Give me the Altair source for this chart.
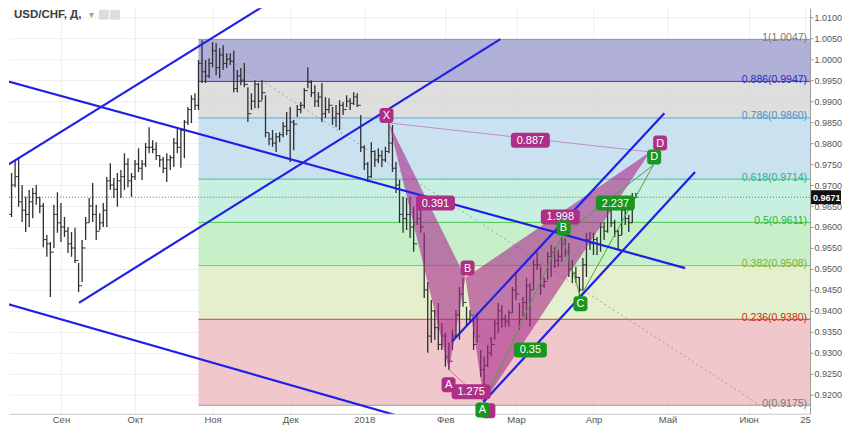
import altair as alt
import pandas as pd

# ---------------- data ----------------
# bar index = trading day counted from 2017-09-01 (index 0)
first_bar = -17
highs = [
    0.9741, 0.9681, 0.9657, 0.9729, 0.9760, 0.9767, 0.9700, 0.9672, 0.9688, 0.9693,
    0.9700, 0.9672, 0.9657, 0.9581, 0.9564, 0.9653, 0.9683, 0.9657, 0.9624, 0.9600,
    0.9588, 0.9598, 0.9514, 0.9569, 0.9624, 0.9669, 0.9705, 0.9653, 0.9633, 0.9657,
    0.9719, 0.9752, 0.9717, 0.9729, 0.9736, 0.9776, 0.9764, 0.9729, 0.9760, 0.9788,
    0.9760, 0.9800, 0.9838, 0.9807, 0.9802, 0.9771, 0.9767, 0.9776, 0.9771, 0.9812,
    0.9836, 0.9836, 0.9855, 0.9886, 0.9914, 0.9919, 0.9998, 1.0045, 0.9998, 1.0002,
    1.0041, 1.0038, 1.0026, 1.0033, 1.0014, 1.0014, 1.0021, 0.9974, 0.9979, 0.9991,
    0.9933, 0.9919, 0.9950, 0.9943, 0.9950, 0.9914, 0.9824, 0.9831, 0.9824, 0.9826,
    0.9850, 0.9874, 0.9886, 0.9855, 0.9891, 0.9898, 0.9931, 0.9981, 0.9950, 0.9938,
    0.9921, 0.9943, 0.9910, 0.9907, 0.9886, 0.9891, 0.9902, 0.9898, 0.9914, 0.9907,
    0.9921, 0.9919, 0.9867, 0.9795, 0.9755, 0.9802, 0.9783, 0.9788, 0.9783, 0.9791,
    0.9848, 0.9843, 0.9755, 0.9712, 0.9672, 0.9669, 0.9672, 0.9648, 0.9645, 0.9641,
    0.9586, 0.9469, 0.9426, 0.9402, 0.9419, 0.9371, 0.9348, 0.9324, 0.9355, 0.9402,
    0.9457, 0.9479, 0.9410, 0.9402, 0.9379, 0.9395, 0.9307, 0.9291, 0.9319, 0.9338,
    0.9379, 0.9419, 0.9414, 0.9391, 0.9402, 0.9457, 0.9493, 0.9419, 0.9433, 0.9479,
    0.9467, 0.9522, 0.9541, 0.9505, 0.9479, 0.9541, 0.9557, 0.9552, 0.9545, 0.9579,
    0.9574, 0.9562, 0.9522, 0.9505, 0.9481, 0.9526, 0.9586, 0.9588, 0.9586, 0.9576,
    0.9610, 0.9612, 0.9653, 0.9660, 0.9617, 0.9593, 0.9653, 0.9645, 0.9629, 0.9681, 0.9681,
]
lows = [
    0.9617, 0.9612, 0.9586, 0.9624, 0.9695, 0.9648, 0.9612, 0.9588, 0.9600, 0.9621,
    0.9653, 0.9633, 0.9552, 0.9529, 0.9433, 0.9550, 0.9586, 0.9564, 0.9576, 0.9538,
    0.9529, 0.9514, 0.9445, 0.9469, 0.9569, 0.9610, 0.9612, 0.9569, 0.9593, 0.9600,
    0.9600, 0.9688, 0.9669, 0.9648, 0.9669, 0.9688, 0.9695, 0.9672, 0.9712, 0.9731,
    0.9712, 0.9743, 0.9776, 0.9776, 0.9760, 0.9743, 0.9729, 0.9707, 0.9736, 0.9743,
    0.9776, 0.9741, 0.9764, 0.9843, 0.9848, 0.9879, 0.9879, 0.9943, 0.9943, 0.9955,
    0.9981, 0.9962, 0.9955, 0.9974, 0.9979, 0.9986, 0.9921, 0.9921, 0.9938, 0.9933,
    0.9850, 0.9879, 0.9883, 0.9883, 0.9902, 0.9814, 0.9795, 0.9791, 0.9779, 0.9802,
    0.9814, 0.9819, 0.9755, 0.9783, 0.9862, 0.9871, 0.9883, 0.9931, 0.9910, 0.9886,
    0.9886, 0.9850, 0.9860, 0.9871, 0.9843, 0.9838, 0.9831, 0.9867, 0.9886, 0.9879,
    0.9891, 0.9886, 0.9779, 0.9736, 0.9707, 0.9717, 0.9743, 0.9752, 0.9743, 0.9755,
    0.9776, 0.9731, 0.9681, 0.9610, 0.9586, 0.9593, 0.9574, 0.9541, 0.9605, 0.9586,
    0.9431, 0.9300, 0.9324, 0.9331, 0.9307, 0.9307, 0.9267, 0.9260, 0.9307, 0.9338,
    0.9331, 0.9410, 0.9362, 0.9371, 0.9307, 0.9324, 0.9243, 0.9183, 0.9267, 0.9291,
    0.9331, 0.9348, 0.9360, 0.9362, 0.9362, 0.9395, 0.9426, 0.9355, 0.9386, 0.9379,
    0.9362, 0.9450, 0.9498, 0.9438, 0.9455, 0.9474, 0.9481, 0.9502, 0.9505, 0.9517,
    0.9529, 0.9481, 0.9467, 0.9467, 0.9433, 0.9450, 0.9481, 0.9545, 0.9533, 0.9533,
    0.9541, 0.9569, 0.9586, 0.9600, 0.9576, 0.9545, 0.9581, 0.9605, 0.9588, 0.9610, 0.9669,
]
closes = [
    0.9650, 0.9640, 0.9630, 0.9700, 0.9720, 0.9660, 0.9640, 0.9630, 0.9660, 0.9680,
    0.9670, 0.9650, 0.9570, 0.9560, 0.9540, 0.9630, 0.9610, 0.9600, 0.9590, 0.9560,
    0.9550, 0.9520, 0.9460, 0.9550, 0.9610, 0.9650, 0.9630, 0.9590, 0.9610, 0.9640,
    0.9710, 0.9700, 0.9690, 0.9710, 0.9720, 0.9750, 0.9710, 0.9720, 0.9750, 0.9740,
    0.9750, 0.9790, 0.9790, 0.9785, 0.9770, 0.9760, 0.9740, 0.9760, 0.9765, 0.9800,
    0.9790, 0.9830, 0.9850, 0.9880, 0.9905, 0.9890, 0.9990, 0.9970, 0.9960, 0.9990,
    1.0020, 0.9980, 1.0010, 0.9990, 1.0000, 0.9995, 0.9930, 0.9960, 0.9950, 0.9940,
    0.9870, 0.9900, 0.9940, 0.9900, 0.9920, 0.9825, 0.9810, 0.9800, 0.9815, 0.9820,
    0.9840, 0.9830, 0.9850, 0.9845, 0.9880, 0.9890, 0.9925, 0.9945, 0.9920, 0.9900,
    0.9910, 0.9870, 0.9880, 0.9890, 0.9860, 0.9870, 0.9890, 0.9880, 0.9900, 0.9895,
    0.9910, 0.9890, 0.9790, 0.9750, 0.9720, 0.9780, 0.9760, 0.9770, 0.9760, 0.9780,
    0.9800, 0.9740, 0.9700, 0.9630, 0.9620, 0.9630, 0.9600, 0.9560, 0.9620, 0.9600,
    0.9450, 0.9340, 0.9400, 0.9360, 0.9320, 0.9340, 0.9290, 0.9280, 0.9340, 0.9390,
    0.9440, 0.9420, 0.9380, 0.9390, 0.9320, 0.9340, 0.9260, 0.9270, 0.9300, 0.9320,
    0.9370, 0.9400, 0.9380, 0.9375, 0.9395, 0.9450, 0.9440, 0.9380, 0.9420, 0.9460,
    0.9450, 0.9510, 0.9510, 0.9460, 0.9470, 0.9530, 0.9540, 0.9520, 0.9530, 0.9560,
    0.9540, 0.9500, 0.9490, 0.9480, 0.9450, 0.9510, 0.9570, 0.9560, 0.9570, 0.9560,
    0.9600, 0.9590, 0.9640, 0.9610, 0.9590, 0.9580, 0.9640, 0.9620, 0.9610, 0.9670, 0.9671,
]
first_open = 0.9700
last_price = 0.9671

month_ticks = [0, 21, 43, 65, 86, 109, 129, 151, 172, 195, 211]
month_labels = ["Сен", "Окт", "Ноя", "Дек", "2018", "Фев", "Мар", "Апр", "Май", "Июн", "25"]
price_ticks = [0.915, 0.920, 0.925, 0.930, 0.935, 0.940, 0.945, 0.950, 0.955, 0.960,
               0.965, 0.970, 0.975, 0.980, 0.985, 0.990, 0.995, 1.000, 1.005, 1.010]

# Fibonacci retracement
fib_start = 39
fib_levels = ["1", "0.886", "0.786", "0.618", "0.5", "0.382", "0.236", "0"]
fib_prices = [1.0047, 0.9947, 0.9860, 0.9714, 0.9611, 0.9508, 0.9380, 0.9175]
fib_line_colors = ["#9a9a9a", "#3a3ad2", "#5fa8da", "#3cc59c", "#4cc44c", "#93c63e", "#d63c3c", "#9a9a9a"]
fib_text_colors = ["#7a7a7a", "#2a2ac0", "#3f94cc", "#22b484", "#30b430", "#7db22a", "#c82a2a", "#7a7a7a"]
fib_band_colors = ["#9c9cce", "#d6d6d6", "#bddbec", "#baecd9", "#baecba", "#ddecc0", "#ecbabe"]
fib_trend = [(39, 1.0047, 198.2, 0.9175)]

# user-drawn blue trend lines (bar index, price)
blue_lines = [
    (-17.0, 0.9738, 60.0, 1.0140),
    (5.1, 0.9419, 124.6, 1.0048),
    (-17.0, 0.9952, 177.0, 0.9502),
    (-17.0, 0.9421, 100.5, 0.9138),
    (110.9, 0.9327, 171.1, 0.9871),
    (119.8, 0.9183, 179.8, 0.9731),
]

# pink harmonic pattern X-A-B-C-D
pink_names = ["X", "A", "B", "C", "D"]
pink_i = [93, 110, 114.7, 120, 167]
pink_p = [0.9848, 0.9260, 0.9479, 0.9183, 0.9779]

# green ABCD pattern
green_names = ["A", "B", "C", "D"]
green_i = [120, 142.1, 147.3, 168]
green_p = [0.9183, 0.9579, 0.9434, 0.9748]

pink_label_text = ["X", "0.887", "0.391", "B", "A", "1.275", "1.998", "D"]
pink_label_i = [92.3, 133.1, 106.2, 115.3, 109.9, 116.3, 141.6, 169.9]
pink_label_p = [0.9866, 0.9807, 0.9657, 0.9502, 0.9224, 0.9207, 0.9624, 0.9800]
# pink "C" marker box, hidden behind the green "A" marker
pink_hidden_i = [121.2]
pink_hidden_p = [0.9162]

green_label_text = ["A", "B", "C", "D", "0.35", "2.237"]
green_label_i = [119.5, 142.5, 147.3, 168.2, 133.1, 157.2]
green_label_p = [0.9164, 0.9598, 0.9417, 0.9767, 0.9307, 0.9657]

# ---------------- chart ----------------
# plot area: page x 8..810, page y 8..414 (fits the 850x435 page with its 8px margin)
W, H = 802, 406
xs = alt.Scale(domain=[-14.73, 212.4], nice=False, zero=False)
ys = alt.Scale(domain=[0.915479, 1.012145], nice=False, zero=False)
FONT = "Liberation Sans"

lbl_expr = " : ".join(f"datum.value == {t} ? '{l}'" for t, l in zip(month_ticks, month_labels)) + " : ''"
x_axis = alt.Axis(values=month_ticks, labelExpr=lbl_expr, orient="bottom", grid=True,
                  gridColor="#eeeeee", domainColor="#c8c8c8", tickSize=0, labelPadding=1,
                  labelFontSize=9.5, labelColor="#555555", labelFont=FONT, title=None,
                  labelFlush=False, labelOverlap=False)
y_axis = alt.Axis(values=price_ticks, format=".4f", orient="right", grid=True,
                  gridColor="#eeeeee", domainColor="#9a9a9a", tickColor="#9a9a9a", tickSize=3,
                  labelPadding=1, labelFontSize=9, labelColor="#555555", labelFont=FONT,
                  title=None, labelFlush=False, labelOverlap=False)


def X(f):
    return alt.X(f, scale=xs, axis=x_axis, title=None)


def Y(f):
    return alt.Y(f, scale=ys, axis=y_axis, title=None)


idx = list(range(first_bar, first_bar + len(highs)))
opens = [first_open] + closes[:-1]
bars = pd.DataFrame({"i": idx, "high": highs, "low": lows, "close": closes, "open": opens})

# Fib bands and lines
bands = pd.DataFrame({
    "top": fib_prices[:-1], "bot": fib_prices[1:], "col": fib_band_colors,
    "i": [fib_start] * len(fib_band_colors),
})
band_layer = alt.Chart(bands).mark_rect(opacity=0.8, clip=True).encode(
    x=X("i:Q"), x2=alt.value(W), y=Y("top:Q"), y2="bot:Q", color=alt.Color("col:N", scale=None)
)
fibl = pd.DataFrame({"p": fib_prices, "col": fib_line_colors, "tcol": fib_text_colors,
                     "lab": [f"{l}({p:.4f})" for l, p in zip(fib_levels, fib_prices)],
                     "i": [fib_start] * len(fib_prices)})
fib_line_layer = alt.Chart(fibl).mark_rule(strokeWidth=1, clip=True).encode(
    x=X("i:Q"), x2=alt.value(W), y=Y("p:Q"), color=alt.Color("col:N", scale=None)
)
fib_text_layer = alt.Chart(fibl).mark_text(align="right", baseline="middle", dy=-1.5,
                                           fontSize=10.5, font=FONT).encode(
    x=alt.value(W - 3), y=Y("p:Q"), text="lab:N", color=alt.Color("tcol:N", scale=None)
)
ft = pd.DataFrame(fib_trend, columns=["i1", "p1", "i2", "p2"])
fib_trend_layer = alt.Chart(ft).mark_rule(color="#a0a0a0", strokeWidth=1, strokeDash=[2, 3], clip=True).encode(
    x=X("i1:Q"), x2="i2:Q", y=Y("p1:Q"), y2="p2:Q"
)

lp = pd.DataFrame({"p": [last_price]})
last_line = alt.Chart(lp).mark_rule(color="#666666", strokeWidth=1, strokeDash=[1, 2]).encode(
    x=alt.value(0), x2=alt.value(W), y=Y("p:Q")
)

# OHLC bars
bar_color = "#2e2e2e"
hl_layer = alt.Chart(bars).mark_rule(color=bar_color, strokeWidth=1.3, clip=True).encode(
    x=X("i:Q"), y=Y("low:Q"), y2="high:Q",
)
open_layer = alt.Chart(bars).transform_calculate(io="datum.i - 0.5").mark_rule(
    color=bar_color, strokeWidth=1, clip=True).encode(x=X("io:Q"), x2="i:Q", y=Y("open:Q"))
close_layer = alt.Chart(bars).transform_calculate(ic="datum.i + 0.5").mark_rule(
    color=bar_color, strokeWidth=1, clip=True).encode(x=X("i:Q"), x2="ic:Q", y=Y("close:Q"))


# pink pattern triangles (vertices -> two boundary polylines)
def tri_df(pts):
    pts = sorted(pts)
    (i0, p0), (i1, p1), (i2, p2) = pts
    pe = p0 + (p2 - p0) * (i1 - i0) / (i2 - i0)
    return pd.DataFrame({"ti": [i0, i1, i2], "pa": [p0, p1, p2], "pb": [p0, pe, p2]})


P = dict(zip(pink_names, zip(pink_i, pink_p)))
G = dict(zip(green_names, zip(green_i, green_p)))
tri_layers = []
for pts in ([P["X"], P["A"], P["B"]], [P["B"], P["C"], P["D"]]):
    tri_layers.append(alt.Chart(tri_df(pts)).mark_area(color="#aa288c", opacity=0.6).encode(
        x=X("ti:Q"), y=Y("pa:Q"), y2="pb:Q"))


def seg_df(pairs, pts):
    return pd.DataFrame([dict(i1=pts[a][0], p1=pts[a][1], i2=pts[b][0], p2=pts[b][1]) for a, b in pairs])


pink_xd = alt.Chart(seg_df([("X", "D")], P)).mark_rule(color="#c88ac6", strokeWidth=1).encode(
    x=X("i1:Q"), x2="i2:Q", y=Y("p1:Q"), y2="p2:Q")
pink_ac = alt.Chart(seg_df([("A", "C")], P)).mark_rule(color="#d86aa2", strokeWidth=1).encode(
    x=X("i1:Q"), x2="i2:Q", y=Y("p1:Q"), y2="p2:Q")
green_seg = alt.Chart(seg_df([("A", "B"), ("B", "C"), ("C", "D"), ("A", "C"), ("B", "D")], G)).mark_rule(
    color="#43a843", strokeWidth=1).encode(x=X("i1:Q"), x2="i2:Q", y=Y("p1:Q"), y2="p2:Q")

blue = pd.DataFrame(blue_lines, columns=["i1", "p1", "i2", "p2"])
blue_layer = alt.Chart(blue).mark_rule(color="#1f1fe6", strokeWidth=2.2, clip=True).encode(
    x=X("i1:Q"), x2="i2:Q", y=Y("p1:Q"), y2="p2:Q")


def label_layers(texts, ii, pp, fill):
    df = pd.DataFrame({"t": texts, "i": ii, "p": pp})
    out = []
    for n, half in [(1, 7), (4, 16.5), (5, 19.5)]:
        out.append(alt.Chart(df).transform_filter(f"length(datum.t) == {n}").mark_rect(
            color=fill, cornerRadius=3, xOffset=-half, x2Offset=half, yOffset=-7.5, y2Offset=7.5
        ).encode(x=X("i:Q"), x2="i:Q", y=Y("p:Q"), y2="p:Q"))
    out.append(alt.Chart(df).mark_text(color="white", fontSize=11, font=FONT, baseline="middle",
                                       align="center", dy=0.5).encode(x=X("i:Q"), y=Y("p:Q"), text="t:N"))
    return out


PINK, GREEN = "#ad2f86", "#18961e"
hidden_box = alt.Chart(pd.DataFrame({"i": pink_hidden_i, "p": pink_hidden_p})).mark_rect(
    color=PINK, cornerRadius=3, xOffset=-7, x2Offset=7, yOffset=-7.5, y2Offset=7.5
).encode(x=X("i:Q"), x2="i:Q", y=Y("p:Q"), y2="p:Q")
pink_labels = label_layers(pink_label_text, pink_label_i, pink_label_p, PINK)
green_labels = label_layers(green_label_text, green_label_i, green_label_p, GREEN)

badge_df = pd.DataFrame({"p": [last_price], "t": [f"{last_price:.4f}"]})
badge_rect = alt.Chart(badge_df).mark_rect(color="#111111", yOffset=-7, y2Offset=7).encode(
    x=alt.value(W + 1), x2=alt.value(W + 31), y=Y("p:Q"), y2="p:Q")
badge_text = alt.Chart(badge_df).mark_text(color="white", fontSize=9, font=FONT, fontWeight="bold",
                                           align="left", baseline="middle", dy=0.5).encode(
    x=alt.value(W + 3), y=Y("p:Q"), text="t:N")

title_df = pd.DataFrame({"t": ["USD/CHF, Д,"]})
title_layer = alt.Chart(title_df).mark_text(color="#3c3c3c", fontSize=11.5, font=FONT, fontWeight="bold",
                                            align="left", baseline="middle").encode(
    x=alt.value(5), y=alt.value(6.5), text="t:N")
arrow_layer = alt.Chart(pd.DataFrame({"t": ["▾"]})).mark_text(color="#a0a0a0", fontSize=10, font="DejaVu Sans",
                                                               align="left", baseline="middle").encode(
    x=alt.value(80), y=alt.value(6.5), text="t:N")
icons_layer = alt.Chart(pd.DataFrame({"x": [90, 101]})).mark_rect(color="#dddddd", cornerRadius=1).encode(
    x=alt.X("x:Q", scale=None, axis=None), x2=alt.X2("x2:Q"), y=alt.value(1.5), y2=alt.value(11.5)
).transform_calculate(x2="datum.x + 10")

chart = alt.layer(
    band_layer, fib_line_layer, fib_trend_layer, last_line,
    hl_layer, open_layer, close_layer,
    *tri_layers, pink_xd, pink_ac, green_seg, blue_layer,
    fib_text_layer,
    hidden_box, *pink_labels, *green_labels,
    badge_rect, badge_text, title_layer, arrow_layer, icons_layer,
).properties(width=W, height=H, padding=0, background="white").configure_view(stroke=None)

chart.save("out.html", embed_options={"renderer": "svg", "actions": False})
